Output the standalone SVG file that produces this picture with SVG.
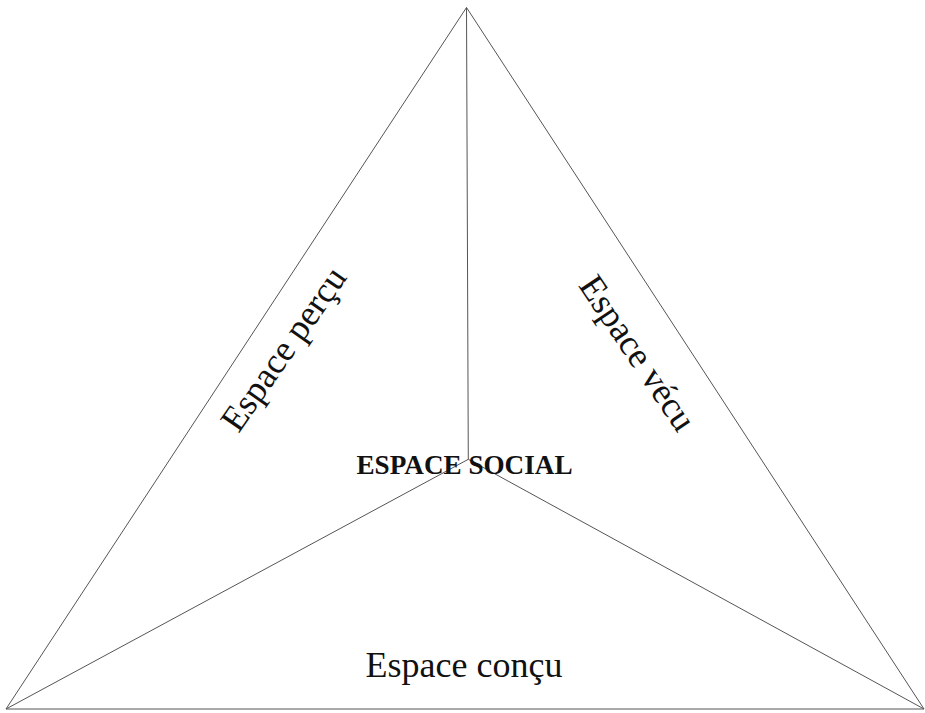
<svg xmlns="http://www.w3.org/2000/svg" width="925" height="713" viewBox="0 0 925 713">
<style>
.ln{stroke:#555;stroke-width:1;fill:none}
.lbl{font-family:"Liberation Serif","Times New Roman",serif;font-size:36px;fill:#111;text-anchor:middle}
.ctr{font-family:"Liberation Serif","Times New Roman",serif;font-size:28px;font-weight:bold;fill:#111;text-anchor:middle}
</style>
<rect width="925" height="713" fill="#fff"/>
<g id="connectors">
<path class="ln" d="M466.5,7.5 L6,709 L924,709 Z"/>
<path class="ln" d="M466.5,7.5 L468.3,459.3"/>
<path class="ln" d="M468.3,459.3 L6,709"/>
<path class="ln" d="M468.3,459.3 L924,709"/>
</g>
<g id="espace-social"><text class="ctr" x="464.5" y="473.5" textLength="216" lengthAdjust="spacingAndGlyphs">ESPACE SOCIAL</text></g>
<g id="espace-percu"><text class="lbl" transform="translate(285,350) rotate(-55)" x="0" y="10">Espace perçu</text></g>
<g id="espace-vecu"><text class="lbl" transform="translate(636,354) rotate(56)" x="0" y="10">Espace vécu</text></g>
<g id="espace-concu"><text class="lbl" x="464" y="677">Espace conçu</text></g>
</svg>
